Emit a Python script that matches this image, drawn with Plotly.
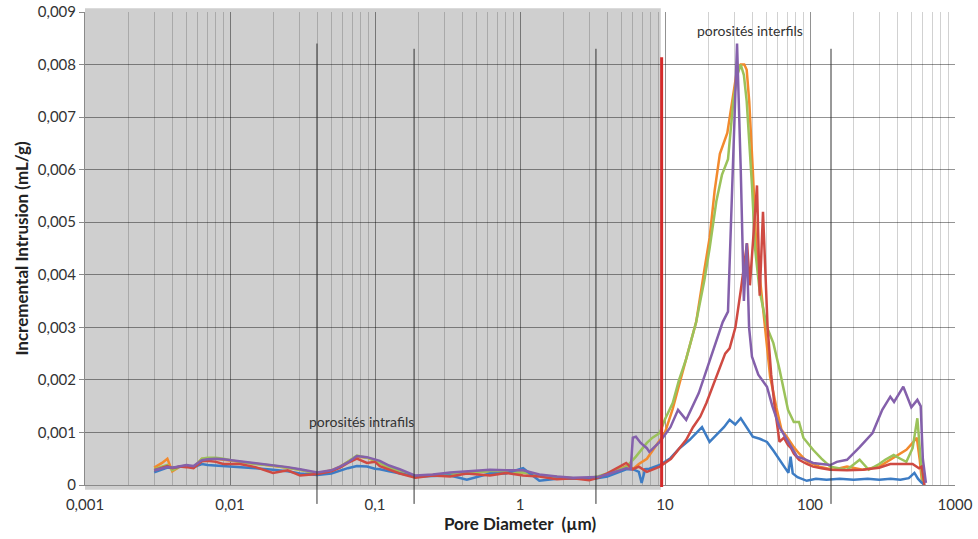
import plotly.graph_objects as go

# ---------------- data ----------------
D_LOW = [0.003, 0.0034, 0.0037, 0.004, 0.0045, 0.005, 0.0056, 0.0064, 0.007, 0.008, 0.009,
         0.0117, 0.015, 0.0198, 0.025, 0.0304, 0.04, 0.05, 0.0574, 0.065, 0.075, 0.088, 0.1,
         0.108, 0.125, 0.148, 0.19, 0.25, 0.33, 0.43, 0.62, 0.8, 1.05, 1.36, 1.8, 2.32, 3.0,
         3.4, 4.0, 4.6, 5.4]

blue_low = [0.00024, 0.0003, 0.00033, 0.00033, 0.00034, 0.00036, 0.00034, 0.0004, 0.00038, 0.00037, 0.00036,
            0.00035, 0.00032, 0.00029, 0.00026, 0.00022, 0.00019, 0.00022, 0.00028, 0.00032, 0.00036, 0.00035, 0.00031,
            0.0003, 0.00026, 0.00022, 0.00016, 0.00017, 0.00018, 0.0001, 0.00022, 0.00022, 0.00032, 0.00008, 0.00012, 0.00012, 0.00012,
            0.00013, 0.00016, 0.00023, 0.0003]
orange_low = [0.00033, 0.00042, 0.0005, 0.00026, 0.00035, 0.00036, 0.00033, 0.0005, 0.00049, 0.0005, 0.00048,
              0.00044, 0.00041, 0.00037, 0.00033, 0.00029, 0.00022, 0.00028, 0.00035, 0.00044, 0.00054, 0.00052, 0.00046,
              0.00042, 0.00032, 0.00026, 0.00017, 0.00019, 0.00022, 0.00024, 0.00026, 0.00024, 0.00024, 0.00018, 0.00015, 0.00013, 0.00013,
              0.00014, 0.0002, 0.00028, 0.00036]
green_low = [0.0003, 0.00034, 0.00038, 0.00028, 0.00035, 0.00037, 0.00033, 0.0005, 0.00052, 0.00052, 0.0005,
             0.00044, 0.0004, 0.00037, 0.00033, 0.00029, 0.00022, 0.00027, 0.00034, 0.00044, 0.00056, 0.00052, 0.00047,
             0.00042, 0.00033, 0.00026, 0.00016, 0.00018, 0.0002, 0.00023, 0.00026, 0.00025, 0.00024, 0.00018, 0.00015, 0.00013, 0.00013,
             0.00016, 0.00022, 0.00028, 0.00034]
red_low = [0.00028, 0.00033, 0.00036, 0.00032, 0.00035, 0.00034, 0.00032, 0.00045, 0.00046, 0.00044, 0.0004,
           0.0004, 0.00034, 0.00023, 0.00028, 0.00018, 0.00021, 0.00026, 0.00033, 0.00042, 0.0005, 0.00042, 0.00044,
           0.00036, 0.0003, 0.00022, 0.00014, 0.00018, 0.00016, 0.00022, 0.00018, 0.00023, 0.00018, 0.00016, 0.00011, 0.00013, 0.00009,
           0.00013, 0.00022, 0.00032, 0.00042]
purple_low = [0.00028, 0.00032, 0.00034, 0.00033, 0.00036, 0.00038, 0.00036, 0.00047, 0.00049, 0.0005, 0.00049,
              0.00045, 0.00042, 0.00038, 0.00034, 0.0003, 0.00024, 0.00028, 0.00035, 0.00043, 0.00055, 0.00053, 0.00048,
              0.00046, 0.00037, 0.0003, 0.00018, 0.0002, 0.00024, 0.00026, 0.00029, 0.00028, 0.00028, 0.0002, 0.00016, 0.00014, 0.00014,
              0.00015, 0.0002, 0.00026, 0.00032]

blue_d = [6.0, 6.6, 6.9, 7.3, 7.8, 9.2, 10.9, 12.6, 14.8, 16.5, 18.0, 20.3, 23.0, 25.5, 27.9, 30.5, 33.3, 36.5, 40.3,
          45, 50.5, 56, 61.6, 67, 71, 73.5, 76, 82, 95, 110, 130, 160, 200, 250, 300, 360, 420, 480, 525, 555, 585, 620]
blue_v = [0.0003, 0.00025, 0.00004, 0.0003, 0.00031, 0.00038, 0.00051, 0.0007, 0.00086, 0.001, 0.0011, 0.00082, 0.00098,
          0.0011, 0.00124, 0.00115, 0.00127, 0.0011, 0.00092, 0.00088, 0.00082, 0.00065, 0.00048, 0.00035, 0.00023, 0.00054,
          0.00022, 0.00015, 0.00008, 0.00012, 0.0001, 0.00012, 0.0001, 0.00012, 0.0001, 0.00012, 0.0001, 0.00013, 0.00023,
          0.00012, 0.00005, 0.0]

orange_d = [6.0, 6.6, 7.5, 8.5, 9.2, 10, 11.3, 12.5, 14, 16.4, 18.7, 20.3, 22, 23.9, 26.9, 29.2, 31, 33.3, 35.2, 36.6,
            38.1, 40.3, 42.7, 44.9, 49, 53.1, 58.6, 63.6, 70, 77.3, 84, 95, 116, 145, 180, 231, 300, 358, 420, 462,
            510, 545, 570, 590, 610]
orange_v = [0.0003, 0.0004, 0.0005, 0.0007, 0.00085, 0.001, 0.00145, 0.0019, 0.0024, 0.0031, 0.0041, 0.0047, 0.0056,
            0.0063, 0.0067, 0.0073, 0.0078, 0.0080, 0.0080, 0.0079, 0.0073, 0.006, 0.0045, 0.004, 0.003, 0.00206, 0.00148,
            0.00105, 0.0009, 0.00072, 0.0006, 0.00045, 0.00035, 0.00029, 0.00035, 0.00029, 0.00035, 0.00048, 0.0006,
            0.00067, 0.0008, 0.0009, 0.0005, 0.0001, 0.0]

green_d = [6.3, 6.6, 7.5, 8.2, 9.2, 10, 11.3, 12.5, 14, 16.4, 18.7, 20.3, 22.6, 24.7, 27.2, 29.6, 31.5, 33.3, 35,
           36.6, 39.8, 41.8, 44.9, 50.5, 55.9, 61.6, 70.5, 77.3, 81, 84, 90, 105, 120, 138, 180, 220, 254, 300, 330,
           378, 420, 462, 510, 550, 575, 600]
green_v = [0.00054, 0.00061, 0.0008, 0.0009, 0.00099, 0.00125, 0.00156, 0.002, 0.0024, 0.0031, 0.0039, 0.0045, 0.0054,
           0.0059, 0.0062, 0.0073, 0.0078, 0.008, 0.0078, 0.0073, 0.0057, 0.0045, 0.0037, 0.003, 0.0027, 0.0022, 0.00143,
           0.0012, 0.0012, 0.0012, 0.0009, 0.00067, 0.0005, 0.00035, 0.00029, 0.00048, 0.00029, 0.0004, 0.00048, 0.00057,
           0.0005, 0.00044, 0.0007, 0.00127, 0.0006, 0.00004]

red_d = [6.0, 6.6, 7.5, 8.2, 9.2, 11, 13, 14, 15.6, 17.5, 19.3, 21.5, 23.9, 26, 27.9, 30.6, 33.3, 35.2, 36.8, 38.5,
         40, 43.1, 45, 47.4, 49, 51, 54, 57, 61.6, 66, 70.5, 74, 77.3, 84, 95, 105, 120, 138, 180, 231, 300, 358,
         420, 510, 565, 590, 615]
red_v = [0.0003, 0.00035, 0.00025, 0.0003, 0.00035, 0.0005, 0.00075, 0.00086, 0.0011, 0.0013, 0.00156, 0.0019, 0.0022,
         0.0025, 0.0026, 0.003, 0.0037, 0.0042, 0.0046, 0.0038, 0.0045, 0.0057, 0.0036, 0.0052, 0.0042, 0.003, 0.0021,
         0.0015, 0.00082, 0.0009, 0.00076, 0.0007, 0.0006, 0.00048, 0.0004, 0.00035, 0.00032, 0.00029, 0.00028, 0.00029,
         0.00033, 0.0004, 0.0004, 0.0004, 0.00032, 0.00035, 0.0]

purple_d = [5.8, 6.0, 6.3, 6.8, 7.5, 7.8, 9.2, 10.9, 12.3, 14.0, 17.1, 21.2, 25, 27.2, 28.8, 31.4, 33.3, 35, 36.6,
            38, 39.8, 44, 50.5, 55, 61.6, 70, 81.5, 90, 105, 120, 138, 153, 180, 220, 270, 315, 358, 380, 440, 500,
            550, 580, 600, 630]
purple_v = [0.0003, 0.0009, 0.00092, 0.0008, 0.0007, 0.00063, 0.00082, 0.0011, 0.00143, 0.00124, 0.00175, 0.0025,
            0.0031, 0.0033, 0.0055, 0.0084, 0.006, 0.0035, 0.0046, 0.003, 0.00244, 0.0021, 0.00187, 0.0015, 0.0011,
            0.00085, 0.00054, 0.0005, 0.00042, 0.0004, 0.00038, 0.00044, 0.00048, 0.00072, 0.00099, 0.00143, 0.00168,
            0.00158, 0.00187, 0.00148, 0.00162, 0.0015, 0.0005, 0.00004]

# reference markers
RED_LINE_D = 9.48
RED_LINE_TOP = 0.00814
BLACK_LINES_D = [0.0398, 0.186, 3.34, 139.6]
BLACK_LINES_TOP = [0.0084, 0.0083, 0.0083, 0.0083]
X_TICKS = [0.001, 0.01, 0.1, 1, 10, 100, 1000]
X_TICK_TEXT = ["0,001", "0,01", "0,1", "1", "10", "100", "1000"]
Y_TICKS = [0, 0.001, 0.002, 0.003, 0.004, 0.005, 0.006, 0.007, 0.008, 0.009]
Y_TICK_TEXT = ["0", "0,001", "0,002", "0,003", "0,004", "0,005", "0,006", "0,007", "0,008", "0,009"]

COLORS = {"blue": "#3d7cc4", "red": "#cf4a42", "orange": "#f28a2e", "green": "#9bc25a", "purple": "#8460ab"}

series = [
    ("orange", D_LOW + orange_d, orange_low + orange_v),
    ("green", D_LOW + green_d, green_low + green_v),
    ("blue", D_LOW + blue_d, blue_low + blue_v),
    ("red", D_LOW + red_d, red_low + red_v),
    ("purple", D_LOW + purple_d, purple_low + purple_v),
]

FONT = "Lato, 'Open Sans', sans-serif"

fig = go.Figure()
for name, xs, ys in series:
    fig.add_trace(go.Scatter(x=xs, y=ys, mode="lines", name=name,
                             line=dict(color=COLORS[name], width=2.5), showlegend=False))

# grey shaded zone (intra-yarn porosity)
fig.add_shape(type="rect", xref="x", yref="paper", x0=0.001, x1=9.35, y0=-0.01, y1=1.008,
              fillcolor="#cfcfcf", line=dict(width=0), layer="below")

# vertical separators
for d, top in zip(BLACK_LINES_D, BLACK_LINES_TOP):
    fig.add_shape(type="line", xref="x", yref="paper", x0=d, x1=d, y0=-0.04, y1=top / 0.009,
                  line=dict(color="#333333", width=1), layer="above")
fig.add_shape(type="line", xref="x", yref="paper", x0=RED_LINE_D, x1=RED_LINE_D, y0=-0.004,
              y1=RED_LINE_TOP / 0.009, line=dict(color="#d42a2a", width=3), layer="above")

fig.add_annotation(x=1.586, y=0.00864, xref="x", yref="y", text="porosités interfils",
                   showarrow=False, font=dict(family=FONT, size=14, color="#333333"))
fig.add_annotation(x=-1.09, y=0.0012, xref="x", yref="y", text="porosités intrafils",
                   showarrow=False, font=dict(family=FONT, size=14, color="#333333"))

fig.update_layout(
    width=978, height=539,
    margin=dict(l=85, r=23, t=12, b=54),
    paper_bgcolor="white",
    plot_bgcolor="rgba(0,0,0,0)",
    font=dict(family=FONT, size=14, color="#333333"),
    showlegend=False,
)
fig.update_xaxes(
    type="log", range=[-3, 3], automargin=False,
    tickmode="array", tickvals=X_TICKS, ticktext=X_TICK_TEXT,
    showgrid=True, gridcolor="rgba(0,0,0,0.30)", gridwidth=1,
    minor=dict(dtick="D1", showgrid=True, gridcolor="rgba(0,0,0,0.18)", gridwidth=1),
    showline=True, linecolor="#8a8a8a", linewidth=1,
    ticks="", ticklabelstandoff=6, tickfont=dict(family=FONT, size=15, color="#333333"),
    title=dict(text="<b>Pore Diameter  (µm)</b>", font=dict(family=FONT, size=17, color="#222222"), standoff=2),
    zeroline=False,
)
fig.update_yaxes(
    range=[0, 0.009], automargin=False,
    tickmode="array", tickvals=Y_TICKS, ticktext=Y_TICK_TEXT,
    showgrid=True, gridcolor="rgba(0,0,0,0.42)", gridwidth=1,
    showline=True, linecolor="#8a8a8a", linewidth=1,
    ticks="outside", ticklen=5, tickcolor="#8a8a8a",
    tickfont=dict(family=FONT, size=15, color="#333333"),
    title=dict(text="<b>Incremental Intrusion (mL/g)</b>", font=dict(family=FONT, size=17, color="#222222"), standoff=4),
    zeroline=False,
)

fig.write_html("out.html")
